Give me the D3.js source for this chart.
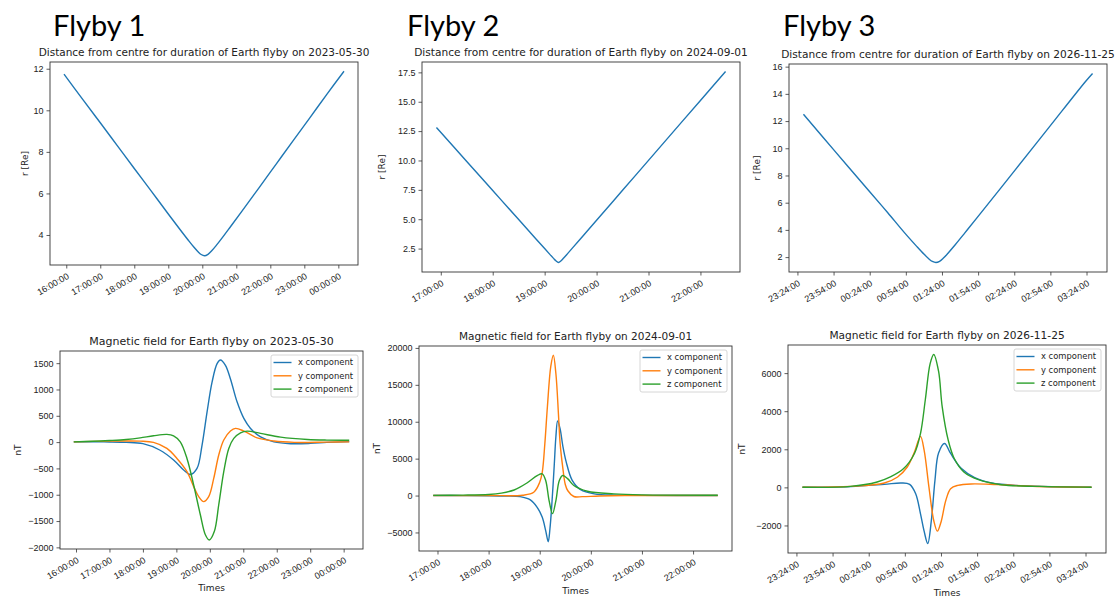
<!DOCTYPE html>
<html>
<head>
<meta charset="utf-8">
<script src="https://cdn.jsdelivr.net/npm/d3@7"></script>
<style>
  body { margin: 0; background: #ffffff; }
  svg { display: block; font-family: "DejaVu Sans", sans-serif; }
</style>
</head>
<body>
<div id="chart"></div>
<script>
// ---- data (time "HH:MM", value) ----
const flyby1Dist = [
  ["15:56", 11.74], ["16:30", 10.49], ["17:00", 9.4], ["17:30", 8.3], ["18:00", 7.2],
  ["18:30", 6.11], ["19:00", 5.01], ["19:20", 4.29], ["19:35", 3.76], ["19:45", 3.42],
  ["19:52", 3.21], ["19:58", 3.06], ["20:04", 3.0], ["20:10", 3.07], ["20:17", 3.25],
  ["20:25", 3.51], ["20:35", 3.86], ["20:50", 4.41], ["21:10", 5.15], ["21:40", 6.27],
  ["22:10", 7.4], ["22:40", 8.53], ["23:10", 9.65], ["23:40", 10.78], ["00:10", 11.88]
];
const flyby1Bx = [
  ["15:56", 5], ["16:30", 5], ["17:00", 3], ["17:30", -5], ["18:00", -30], ["18:30", -150],
  ["18:55", -340], ["19:13", -530], ["19:25", -615], ["19:37", -500], ["19:46", -60],
  ["19:55", 570], ["20:04", 1140], ["20:13", 1490], ["20:19", 1560], ["20:28", 1460],
  ["20:37", 1200], ["20:49", 760], ["21:01", 450], ["21:13", 260], ["21:31", 100],
  ["21:55", 5], ["22:25", -30], ["23:00", -25], ["23:30", -5], ["00:10", 10]
];
const flyby1By = [
  ["15:56", 5], ["17:00", 18], ["17:55", 19], ["18:19", -6], ["18:43", -120], ["19:01", -310],
  ["19:19", -560], ["19:31", -845], ["19:40", -1035], ["19:49", -1130], ["19:58", -1035],
  ["20:07", -690], ["20:16", -245], ["20:25", 40], ["20:37", 210], ["20:46", 260],
  ["21:01", 210], ["21:25", 80], ["21:55", 20], ["22:31", -5], ["23:30", 0], ["00:10", 5]
];
const flyby1Bz = [
  ["15:56", 5], ["16:30", 15], ["17:00", 30], ["17:30", 50], ["17:55", 80], ["18:19", 120],
  ["18:43", 146], ["18:55", 120], ["19:07", 5], ["19:19", -310], ["19:31", -815],
  ["19:43", -1380], ["19:52", -1760], ["19:59", -1860], ["20:08", -1700], ["20:16", -1190],
  ["20:25", -560], ["20:34", -120], ["20:43", 70], ["20:55", 176], ["21:07", 208],
  ["21:31", 165], ["22:07", 95], ["22:55", 50], ["23:30", 38], ["00:10", 35]
];

const flyby2Dist = [
  ["16:55", 12.8], ["17:30", 9.92], ["18:00", 7.44], ["18:30", 4.97], ["18:50", 3.32],
  ["19:00", 2.5], ["19:06", 2.01], ["19:10", 1.69], ["19:13", 1.46], ["19:16", 1.32],
  ["19:19", 1.47], ["19:22", 1.7], ["19:26", 2.03], ["19:32", 2.54], ["19:45", 3.64],
  ["20:00", 4.91], ["20:30", 7.46], ["21:00", 10.01], ["21:30", 12.56], ["22:00", 15.11],
  ["22:29", 17.57]
];
const flyby2Bx = [
  ["16:55", 0], ["17:30", -5], ["18:00", -20], ["18:20", -60], ["18:37", -150], ["18:49", -590],
  ["18:57", -1590], ["19:03", -2950], ["19:07", -4760], ["19:10", -6250], ["19:12", -4500],
  ["19:14", -1600], ["19:17", 4000], ["19:19", 8000], ["19:21", 10100], ["19:24", 9000],
  ["19:27", 6800], ["19:31", 4600], ["19:38", 2100], ["19:48", 800], ["20:04", 230],
  ["20:30", 60], ["21:00", 20], ["22:29", 0]
];
const flyby2By = [
  ["16:55", 0], ["18:00", 0], ["18:40", 50], ["18:53", 450], ["19:00", 1800], ["19:03", 3170],
  ["19:06", 7000], ["19:09", 12000], ["19:13", 17500], ["19:16", 19000], ["19:19", 16500],
  ["19:22", 11000], ["19:24", 7000], ["19:27", 3850], ["19:30", 1500], ["19:33", 650],
  ["19:40", -130], ["19:50", -150], ["20:10", -60], ["20:40", 0], ["22:29", 0]
];
const flyby2Bz = [
  ["16:55", 30], ["17:30", 60], ["18:00", 150], ["18:15", 330], ["18:30", 750], ["18:45", 1700],
  ["18:57", 2700], ["19:03", 2950], ["19:07", 2040], ["19:11", -680], ["19:15", -2450],
  ["19:19", -680], ["19:23", 2040], ["19:27", 2720], ["19:33", 2260], ["19:40", 1360],
  ["19:56", 590], ["20:27", 230], ["21:00", 90], ["22:29", 40]
];

const flyby3Dist = [
  ["23:29", 12.5], ["23:54", 9.9], ["00:24", 6.81], ["00:39", 5.26], ["00:53", 3.78],
  ["01:03", 2.79], ["01:09", 2.22], ["01:13", 1.88], ["01:16", 1.68], ["01:19", 1.6],
  ["01:22", 1.69], ["01:25", 1.91], ["01:29", 2.29], ["01:35", 2.91], ["01:43", 3.78],
  ["01:53", 4.88], ["02:23", 8.21], ["02:53", 11.55], ["03:23", 14.89], ["03:29", 15.5]
];
const flyby3Bx = [
  ["23:29", 10], ["00:09", 40], ["00:37", 160], ["00:51", 230], ["00:58", 160], ["01:03", -335],
  ["01:07", -1390], ["01:10", -2300], ["01:13", -2950], ["01:16", -1740], ["01:19", 370],
  ["01:22", 1800], ["01:27", 2300], ["01:32", 1780], ["01:41", 985], ["01:52", 510],
  ["02:06", 230], ["02:30", 90], ["03:00", 30], ["03:29", 10]
];
const flyby3By = [
  ["23:29", 10], ["00:09", 50], ["00:37", 230], ["00:48", 545], ["00:56", 1070], ["01:02", 1860],
  ["01:07", 2680], ["01:10", 1950], ["01:14", 15], ["01:18", -1740], ["01:21", -2300],
  ["01:24", -1830], ["01:28", -690], ["01:32", -70], ["01:38", 105], ["01:49", 180],
  ["02:10", 150], ["02:40", 60], ["03:29", 10]
];
const flyby3Bz = [
  ["23:29", 5], ["00:09", 50], ["00:31", 280], ["00:42", 545], ["00:53", 985], ["01:02", 1780],
  ["01:07", 2830], ["01:11", 4600], ["01:15", 6500], ["01:18", 6980], ["01:22", 6100],
  ["01:25", 4240], ["01:30", 2480], ["01:35", 1515], ["01:43", 810], ["01:55", 405],
  ["02:14", 140], ["02:45", 50], ["03:29", 10]
];

// ---- tick labels ----
const flyby1TimeTicks = ["16:00", "17:00", "18:00", "19:00", "20:00", "21:00", "22:00", "23:00", "00:00"];
const flyby2TimeTicks = ["17:00", "18:00", "19:00", "20:00", "21:00", "22:00"];
const flyby3TimeTicks = ["23:24", "23:54", "00:24", "00:54", "01:24", "01:54", "02:24", "02:54", "03:24"];

const flyby1DistTicks = [4, 6, 8, 10, 12];
const flyby2DistTicks = [2.5, 5.0, 7.5, 10.0, 12.5, 15.0, 17.5];
const flyby3DistTicks = [2, 4, 6, 8, 10, 12, 14, 16];
const flyby1FieldTicks = [-2000, -1500, -1000, -500, 0, 500, 1000, 1500];
const flyby2FieldTicks = [-5000, 0, 5000, 10000, 15000, 20000];
const flyby3FieldTicks = [-2000, 0, 2000, 4000, 6000];

const flybyNames = ["Flyby 1", "Flyby 2", "Flyby 3"];
const flybyDates = ["2023-05-30", "2024-09-01", "2026-11-25"];
const flybyStartDays = ["2023-05-30", "2024-09-01", "2026-11-24"];
const componentNames = ["x component", "y component", "z component"];

const colors = ["#1f77b4", "#ff7f0e", "#2ca02c"];

// turn "HH:MM" lists into dates, rolling over midnight
function toDates(day, times) {
  const base = d3.timeParse("%Y-%m-%d")(day).getTime();
  let offset = 0;
  let prev = -1;
  return times.map(t => {
    const [h, m] = t.split(":").map(Number);
    const mins = h * 60 + m;
    if (prev >= 0 && mins < prev) offset += 1440;
    prev = mins;
    return new Date(base + (offset + mins) * 60000);
  });
}

function toSeries(day, rows) {
  const dates = toDates(day, rows.map(r => r[0]));
  return rows.map((r, i) => ({ date: dates[i], value: r[1] }));
}

const width = 1118;
const height = 597;
const tickFont = "9px";

const svg = d3.select("#chart")
  .append("svg")
  .attr("width", width)
  .attr("height", height);

const panels = [
  { box: [50, 62, 358, 265], flyby: 0, kind: "dist", rows: [flyby1Dist], ticks: flyby1TimeTicks, yTicks: flyby1DistTicks, yFmt: d3.format("d"), titleSize: 10.5, ylabelX: 25 },
  { box: [422, 62, 740, 272], flyby: 1, kind: "dist", rows: [flyby2Dist], ticks: flyby2TimeTicks, yTicks: flyby2DistTicks, yFmt: d3.format(".1f"), titleSize: 10.6, ylabelX: 382 },
  { box: [789, 64, 1107, 272], flyby: 2, kind: "dist", rows: [flyby3Dist], ticks: flyby3TimeTicks, yTicks: flyby3DistTicks, yFmt: d3.format("d"), titleSize: 10.6, ylabelX: 757 },
  { box: [60, 351, 363, 549], flyby: 0, kind: "field", rows: [flyby1Bx, flyby1By, flyby1Bz], ticks: flyby1TimeTicks, yTicks: flyby1FieldTicks, yFmt: d3.format("d"), titleSize: 11, ylabelX: 18, xlabelY: 591 },
  { box: [419, 346, 732, 551], flyby: 1, kind: "field", rows: [flyby2Bx, flyby2By, flyby2Bz], ticks: flyby2TimeTicks, yTicks: flyby2FieldTicks, yFmt: d3.format("d"), titleSize: 10.5, ylabelX: 377, xlabelY: 594 },
  { box: [788, 345, 1106, 553], flyby: 2, kind: "field", rows: [flyby3Bx, flyby3By, flyby3Bz], ticks: flyby3TimeTicks, yTicks: flyby3FieldTicks, yFmt: d3.format("d"), titleSize: 10.6, ylabelX: 742, xlabelY: 595.5 }
];

const minusFmt = f => d => f(d).replace("-", "\u2212");

function padExtent(ext) {
  const span = ext[1] - ext[0];
  return [ext[0] - span * 0.05, ext[1] + span * 0.05];
}

panels.forEach(p => {
  const [left, top, right, bottom] = p.box;
  const w = right - left;
  const h = bottom - top;
  const day = flybyStartDays[p.flyby];

  const series = p.rows.map(r => toSeries(day, r));
  const all = series.flat();

  const tExt = d3.extent(all, d => d.date.getTime());
  const vExt = d3.extent(all, d => d.value);

  const x = d3.scaleTime()
    .domain(padExtent(tExt).map(t => new Date(t)))
    .range([0, w]);

  const y = d3.scaleLinear()
    .domain(padExtent(vExt))
    .range([h, 0]);

  const g = svg.append("g")
    .attr("transform", `translate(${left}, ${top})`);

  // x axis
  const xAxis = g.append("g")
    .attr("transform", `translate(0, ${h})`)
    .call(d3.axisBottom(x)
      .tickValues(toDates(day, p.ticks))
      .tickFormat(d3.timeFormat("%H:%M:%S"))
      .tickSize(3.5));

  xAxis.select(".domain").remove();
  xAxis.selectAll("line").attr("stroke", "#333").attr("stroke-width", 0.8);
  xAxis.selectAll("text")
    .attr("font-size", tickFont)
    .attr("fill", "#222")
    .attr("y", 0)
    .attr("dy", 0)
    .attr("text-anchor", "end")
    .attr("transform", "translate(3, 13) rotate(-30)");

  // y axis
  const yAxis = g.append("g")
    .call(d3.axisLeft(y)
      .tickValues(p.yTicks)
      .tickFormat(minusFmt(p.yFmt))
      .tickSize(3.5)
      .tickPadding(3));

  yAxis.select(".domain").remove();
  yAxis.selectAll("line").attr("stroke", "#333").attr("stroke-width", 0.8);
  yAxis.selectAll("text")
    .attr("font-size", tickFont)
    .attr("fill", "#222");

  // lines
  const line = d3.line()
    .x(d => x(d.date))
    .y(d => y(d.value))
    .curve(d3.curveCatmullRom.alpha(0.5));

  g.selectAll(".series")
    .data(series)
    .enter()
    .append("path")
    .attr("class", "series")
    .attr("d", line)
    .attr("fill", "none")
    .attr("stroke", (d, i) => colors[i])
    .attr("stroke-width", 1.4);

  // frame
  g.append("rect")
    .attr("width", w)
    .attr("height", h)
    .attr("fill", "none")
    .attr("stroke", "#333")
    .attr("stroke-width", 0.9);

  // title
  const title = p.kind === "dist"
    ? `Distance from centre for duration of Earth flyby on ${flybyDates[p.flyby]}`
    : `Magnetic field for Earth flyby on ${flybyDates[p.flyby]}`;

  g.append("text")
    .attr("x", w / 2)
    .attr("y", -6)
    .attr("text-anchor", "middle")
    .attr("font-size", `${p.titleSize}px`)
    .attr("fill", "#222")
    .text(title);

  // y label
  svg.append("text")
    .attr("transform", `translate(${p.ylabelX}, ${top + h / 2}) rotate(-90)`)
    .attr("text-anchor", "middle")
    .attr("dy", "0.35em")
    .attr("font-size", tickFont)
    .attr("fill", "#222")
    .text(p.kind === "dist" ? "r [Re]" : "nT");

  if (p.kind === "field") {
    svg.append("text")
      .attr("x", left + w / 2)
      .attr("y", p.xlabelY)
      .attr("text-anchor", "middle")
      .attr("font-size", tickFont)
      .attr("fill", "#222")
      .text("Times");

    // legend
    const lw = 87;
    const legend = g.append("g")
      .attr("transform", `translate(${w - lw - 5}, 4)`);

    legend.append("rect")
      .attr("width", lw)
      .attr("height", 42)
      .attr("rx", 2)
      .attr("fill", "#ffffff")
      .attr("fill-opacity", 0.8)
      .attr("stroke", "#cccccc")
      .attr("stroke-width", 0.8);

    componentNames.forEach((name, i) => {
      const cy = 7.5 + i * 13.3;
      legend.append("line")
        .attr("x1", 2.5)
        .attr("x2", 20.5)
        .attr("y1", cy)
        .attr("y2", cy)
        .attr("stroke", colors[i])
        .attr("stroke-width", 1.4);

      legend.append("text")
        .attr("x", 27)
        .attr("y", cy)
        .attr("dy", "0.35em")
        .attr("font-size", "8.4px")
        .attr("fill", "#222")
        .text(name);
    });
  }
});

// big flyby headings
const headingX = [53, 407, 783];

svg.selectAll(".heading")
  .data(flybyNames)
  .enter()
  .append("text")
  .attr("class", "heading")
  .attr("x", (d, i) => headingX[i])
  .attr("y", 36)
  .attr("font-family", "Lato, 'Noto Sans', sans-serif")
  .attr("font-size", "29px")
  .attr("fill", "#000")
  .text(d => d);
</script>
</body>
</html>
